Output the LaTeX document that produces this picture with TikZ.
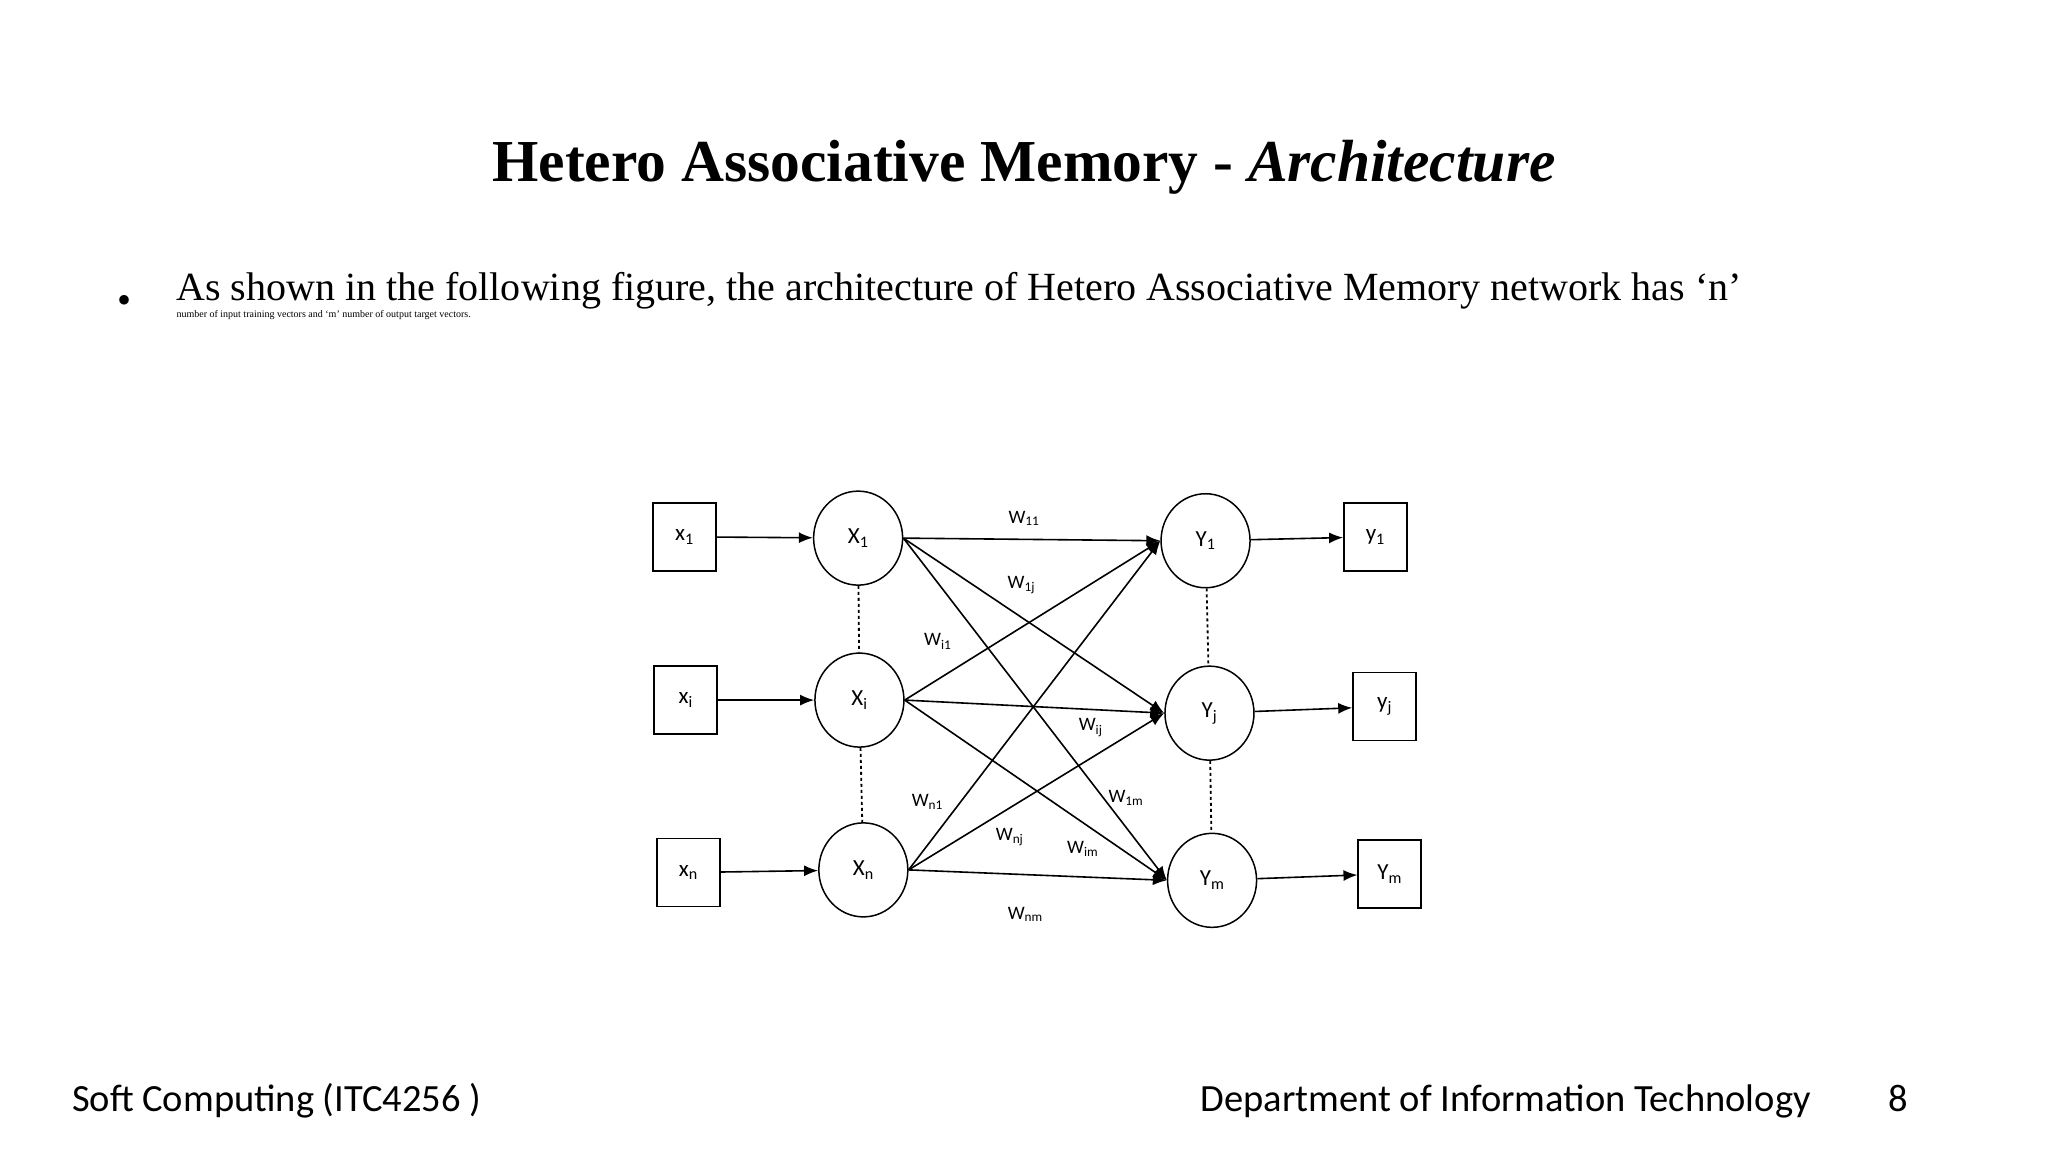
\documentclass[tikz,border=0pt]{standalone}
\usepackage{fontspec}
\setmainfont{Liberation Serif}
\newfontfamily\calfont{Carlito}
\usetikzlibrary{shapes.geometric,arrows.meta}
\begin{document}
\begin{tikzpicture}[x=1.306pt,y=-1.306pt,
  inb/.style={draw,line width=1.5pt,minimum width=63pt,minimum height=68pt,font=\calfont\fontsize{23}{23}\selectfont},
  neu/.style={draw,ellipse,line width=1.5pt,minimum width=89pt,minimum height=94pt,font=\calfont\fontsize{23}{23}\selectfont},
  con/.style={line width=1.6pt,-{Latex[length=14pt,width=11pt]}},
  wt/.style={font=\calfont\fontsize{19}{19}\selectfont},
  dot/.style={line width=1.8pt,dash pattern=on 3pt off 3pt}]
\useasboundingbox (0,0) rectangle (1568,882);
\node (title) at (784,128) {\fontsize{59.5}{62}\selectfont\bfseries Hetero Associative Memory - \textit{Architecture}};
\node (bul) at (95,233) {\fontsize{40}{40}\selectfont\textbullet};
\node[anchor=base west,align=left,inner sep=0pt] (txt) at (135,243)
 {\fontsize{40}{50}\selectfont As shown in the following figure, the architecture of Hetero Associative Memory network has ‘n’\\ number of input training vectors and ‘m’ number of output target vectors.};
\node[anchor=base west,inner sep=0pt] (f1) at (55,851) {\calfont\fontsize{38.5}{38.5}\selectfont Soft Computing (ITC4256 )};
\node[anchor=base west,inner sep=0pt] (f2) at (919,851) {\calfont\fontsize{38.5}{38.5}\selectfont Department of Information Technology};
\node[anchor=base west,inner sep=0pt] (f3) at (1446,851) {\calfont\fontsize{38.5}{38.5}\selectfont 8};
% inputs
\node[inb] (b1) at (524,411) {x\textsubscript{1}};
\node[inb] (bi) at (525,536) {x\textsubscript{i}};
\node[inb] (bn) at (527,668) {x\textsubscript{n}};
\node[neu] (X1) at (657,412) {X\textsubscript{1}};
\node[neu] (Xi) at (658,536) {X\textsubscript{i}};
\node[neu] (Xn) at (661,666) {X\textsubscript{n}};
\node[neu] (Y1) at (923,414) {Y\textsubscript{1}};
\node[neu] (Yj) at (926,546) {Y\textsubscript{j}};
\node[neu] (Ym) at (928,674) {Y\textsubscript{m}};
\node[inb] (o1) at (1053,411) {y\textsubscript{1}};
\node[inb] (oj) at (1060,541) {y\textsubscript{j}};
\node[inb] (om) at (1064,669) {Y\textsubscript{m}};
\draw[con] (b1) -- (X1); \draw[con] (bi) -- (Xi); \draw[con] (bn) -- (Xn);
\draw[con] (Y1) -- (o1); \draw[con] (Yj) -- (oj); \draw[con] (Ym) -- (om);
\draw[dot] (X1) -- (Xi); \draw[dot] (Xi) -- (Xn);
\draw[dot] (Y1) -- (Yj); \draw[dot] (Yj) -- (Ym);
\foreach \a in {X1,Xi,Xn}{\foreach \b in {Y1,Yj,Ym}{\draw[con] (\a.east) -- (\b.west);}}
\node[wt] (w1) at (784,397) {W\textsubscript{11}};
\node[wt] (w2) at (782,448) {W\textsubscript{1j}};
\node[wt] (w3) at (718,491) {W\textsubscript{i1}};
\node[wt] (w4) at (835,557) {W\textsubscript{ij}};
\node[wt] (w5) at (710,614) {W\textsubscript{n1}};
\node[wt] (w6) at (862,611) {W\textsubscript{1m}};
\node[wt] (w7) at (773,641) {W\textsubscript{nj}};
\node[wt] (w8) at (829,650) {W\textsubscript{im}};
\node[wt] (w9) at (785,700) {W\textsubscript{nm}};
\end{tikzpicture}
\end{document}
